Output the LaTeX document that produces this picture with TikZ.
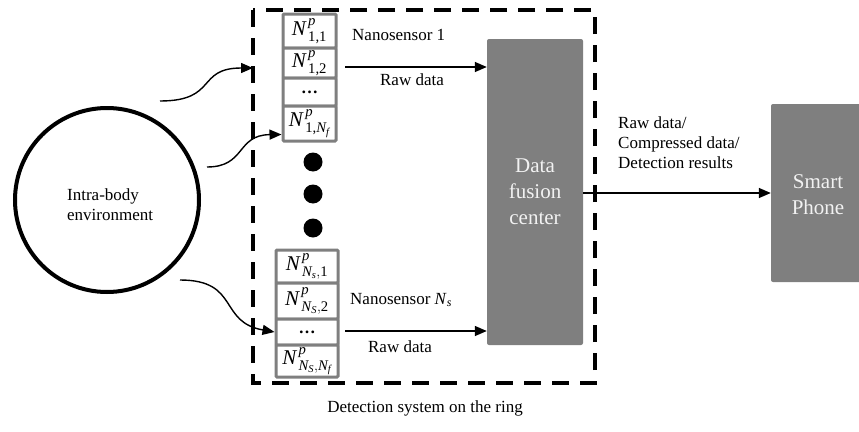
\documentclass[tikz,border=0pt]{standalone}
\usepackage{amsmath}
\usepackage{fontspec}
\setmainfont{Liberation Serif}
\usetikzlibrary{arrows.meta}
\definecolor{boxgray}{RGB}{127,127,127}
\definecolor{lightfg}{RGB}{242,242,242}
\newcommand{\Nsym}{\textit{N}\mkern2mu}
\tikzset{
  txt/.style={font=\fontsize{17}{20}\selectfont, inner sep=0pt},
  bigtxt/.style={font=\fontsize{21}{26}\selectfont, text=lightfg, align=center},
  cellbox/.style={draw=boxgray, line width=3pt, fill=white, inner sep=0pt, rounded corners=1pt,
    font=\fontsize{21}{24}\selectfont},
  grayblock/.style={fill=boxgray, draw=none, rounded corners=2pt, inner sep=0pt},
  arr/.style={line width=1.4pt, -{Triangle[length=12pt,width=10pt]}},
  dot/.style={circle, fill=black, minimum size=19pt, inner sep=0pt},
}
\begin{document}
\begin{tikzpicture}[x=1pt,y=-1pt]
\useasboundingbox (0,0) rectangle (859,431);
% dashed ring box
\draw[line width=4pt, dash pattern=on 17pt off 11pt] (253,10) rectangle (595,383);
% environment circle
\node[draw, line width=4pt, circle, minimum size=184pt, inner sep=0pt] (env) at (107,200) {};
\node[txt, align=left, anchor=west] (envtxt) at (67,205) {Intra-body\\environment};
% top sensor stack
\node[cellbox, minimum width=53pt, minimum height=34pt] (t1) at (309.5,31) {$\Nsym^{\textit{p}}_{\text{1,1}}$};
\node[cellbox, minimum width=53pt, minimum height=30pt] (t2) at (309.5,63) {\raisebox{-1pt}{$\Nsym^{\textit{p}}_{\text{1,2}}$}};
\node[cellbox, minimum width=53pt, minimum height=28pt] (t3) at (309.5,92) {\fontsize{17}{20}\selectfont\textbf{\dots}};
\node[cellbox, minimum width=53pt, minimum height=35pt] (t4) at (309.5,123.5) {$\Nsym^{\textit{p}}_{\text{1,}\textit{N}_{\textit{f}}}$};
% dots
\node[dot] (d1) at (313,162) {};
\node[dot] (d2) at (313,194) {};
\node[dot] (d3) at (313,228) {};
% bottom sensor stack
\node[cellbox, minimum width=62pt, minimum height=33pt] (b1) at (307,266.5) {$\Nsym^{\textit{p}}_{\textit{N}_{\textit{s}},\text{1}}$};
\node[cellbox, minimum width=62pt, minimum height=36pt] (b2) at (307,301) {$\Nsym^{\textit{p}}_{\textit{N}_{\textit{S}},\text{2}}$};
\node[cellbox, minimum width=62pt, minimum height=26pt] (b3) at (307,332) {\fontsize{17}{20}\selectfont\textbf{\dots}};
\node[cellbox, minimum width=62pt, minimum height=32pt] (b4) at (307,361) {$\Nsym^{\textit{p}}_{\textit{N}_{\textit{S}},\textit{N}_{\textit{f}}}$};
% labels
\node[txt, anchor=west] (ns1) at (352,35) {Nanosensor 1};
\node[txt] (raw1) at (412,80) {Raw data};
\node[txt, anchor=west] (nsN) at (350,300) {Nanosensor \textit{N}\textsubscript{\textit{s}}};
\node[txt] (raw2) at (400,347) {Raw data};
% fusion center and phone
\node[grayblock, minimum width=96pt, minimum height=306pt] (dfc) at (535,192) {};
\node[bigtxt] at (dfc.center) {Data\\fusion\\center};
\node[grayblock, minimum width=92pt, minimum height=178pt] (phone) at (817,193) {};
\node[bigtxt] at (818,195) {Smart\\Phone};
\node[txt, align=left, anchor=north west] (out) at (618,117) {Raw data/\\Compressed data/\\Detection results};
% arrows
\coordinate (a1) at (345,67);
\coordinate (a2) at (345,331);
\draw[arr] (a1) -- (a1 -| dfc.west);
\draw[arr] (a2) -- (a2 -| dfc.west);
\draw[arr] (dfc.east |- phone.west) -- (phone.west);
% curves from environment
\coordinate (c1s) at (160,101);
\coordinate (c1e) at (253,68);
\coordinate (c2s) at (207,167);
\coordinate (c3s) at (180,280);
\draw[arr] (c1s) .. controls (218,101) and (196,68) .. (c1e);
\draw[arr] (c2s) .. controls (246,167) and (236,135) .. ([yshift=-11pt]t4.west);
\draw[arr] (c3s) .. controls (240,280) and (218,322) .. (b3.west);
% caption
\node[txt] (cap) at (425,408) {Detection system on the ring};
\end{tikzpicture}
\end{document}
